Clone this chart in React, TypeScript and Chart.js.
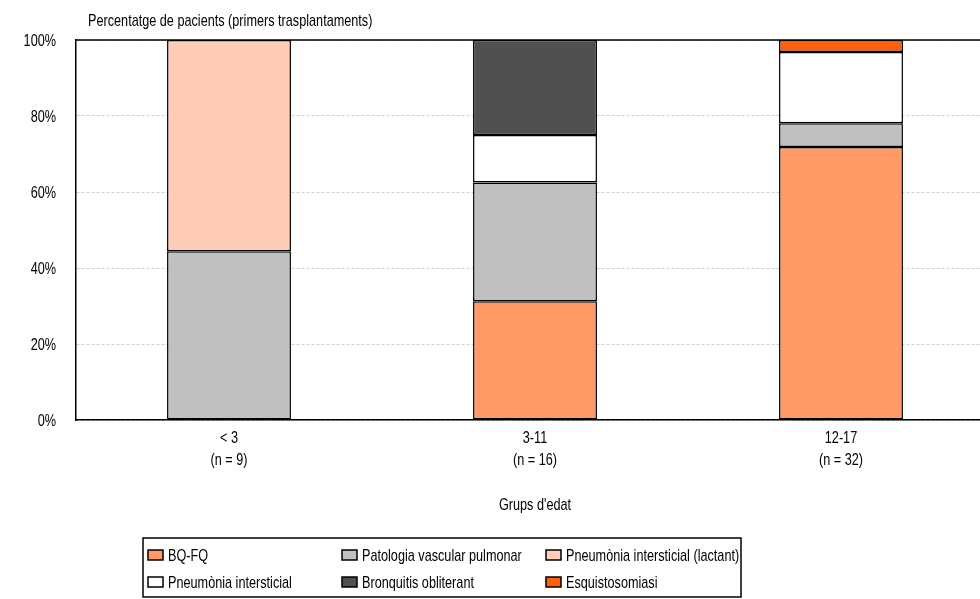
import React, { useEffect, useRef } from "react";
import { Chart, registerables } from "chart.js";

Chart.register(...registerables);

const categories: string[][] = [["< 3", "(n = 9)"], ["3-11", "(n = 16)"], ["12-17", "(n = 32)"]];
const seriesNames = [
  "BQ-FQ",
  "Patologia vascular pulmonar",
  "Pneumònia intersticial (lactant)",
  "Pneumònia intersticial",
  "Bronquitis obliterant",
  "Esquistosomiasi",
];
const bqfq = [0, 31.25, 71.875];
const patologiaVascular = [44.44, 31.25, 6.25];
const pneumoniaLactant = [55.56, 0, 0];
const pneumoniaIntersticial = [0, 12.5, 18.75];
const bronquitis = [0, 25, 0];
const esquistosomiasi = [0, 0, 3.125];
const seriesColors = ["#FF9966", "#C0C0C0", "#FFCCB8", "#FFFFFF", "#505050", "#FF5F0F"];
const yTicks = [0, 20, 40, 60, 80, 100];
const yTickLabels = ["0%", "20%", "40%", "60%", "80%", "100%"];
const yTitle = "Percentatge de pacients (primers trasplantaments)";
const xTitle = "Grups d'edat";

const FONT = "'Liberation Sans', Arial, sans-serif";
const FS = 17;
const SX = 0.745;

function condensedText(ctx: CanvasRenderingContext2D, text: string, x: number, y: number, align: "left" | "center" | "right") {
  ctx.save();
  ctx.translate(x, y);
  ctx.scale(SX, 1);
  ctx.textAlign = align;
  ctx.fillText(text, 0, 0);
  ctx.restore();
}

export default function App() {
  const ref = useRef<HTMLCanvasElement>(null);
  useEffect(() => {
    const values = [bqfq, patologiaVascular, pneumoniaLactant, pneumoniaIntersticial, bronquitis, esquistosomiasi];
    const overlay = {
      id: "overlay",
      afterDraw(chart: any) {
        const ctx: CanvasRenderingContext2D = chart.ctx;
        const ca = chart.chartArea;
        const xs = chart.scales.x;
        const ys = chart.scales.y;
        ctx.save();
        ctx.strokeStyle = "#000";
        ctx.lineWidth = 1.5;
        ctx.beginPath();
        ctx.moveTo(ca.left, ca.top);
        ctx.lineTo(ca.right, ca.top);
        ctx.stroke();
        ctx.fillStyle = "#000";
        ctx.font = `${FS}px ${FONT}`;
        ctx.textBaseline = "middle";
        condensedText(ctx, yTitle, ca.left + 12, 21, "left");
        yTicks.forEach((v, i) => {
          condensedText(ctx, yTickLabels[i], ca.left - 20, ys.getPixelForValue(v) + 1, "right");
        });
        categories.forEach((lines, i) => {
          const px = xs.getPixelForValue(i);
          lines.forEach((t, j) => condensedText(ctx, t, px, 438 + j * 22, "center"));
        });
        condensedText(ctx, xTitle, (ca.left + ca.right) / 2, 505, "center");
        const lx = 143, ly = 538, lw = 598, lh = 59;
        ctx.lineWidth = 1.5;
        ctx.strokeRect(lx, ly, lw, lh);
        const colX = [148, 342, 546];
        const rowY = [555, 582];
        chart.data.datasets.forEach((ds: any, i: number) => {
          const cx = colX[i % 3];
          const cy = rowY[Math.floor(i / 3)];
          ctx.fillStyle = ds.backgroundColor;
          ctx.fillRect(cx, cy - 5, 15, 10);
          ctx.lineWidth = 1.5;
          ctx.strokeStyle = "#000";
          ctx.strokeRect(cx, cy - 5, 15, 10);
          ctx.fillStyle = "#000";
          condensedText(ctx, ds.label, cx + 20, cy + 1, "left");
        });
        ctx.restore();
      },
    };
    const chart = new Chart(ref.current!, {
      type: "bar",
      data: {
        labels: categories,
        datasets: seriesNames.map((name, i) => ({
          label: name,
          data: values[i],
          backgroundColor: seriesColors[i],
          borderColor: "#000",
          borderWidth: 1.5,
          borderSkipped: false,
          barPercentage: 0.405,
          categoryPercentage: 1,
        })),
      },
      options: {
        animation: false,
        responsive: false,
        maintainAspectRatio: false,
        layout: { padding: { top: 40, left: 0, right: 6, bottom: 84 } },
        plugins: { legend: { display: false }, tooltip: { enabled: false } },
        scales: {
          x: {
            stacked: true,
            grid: { display: false, drawTicks: false },
            border: { display: true, color: "#000", width: 1.5 },
            ticks: { display: false },
            afterFit: (s: any) => { s.height = 95; },
          },
          y: {
            stacked: true,
            min: 0,
            max: 100,
            afterBuildTicks: (s: any) => { s.ticks = yTicks.map((v) => ({ value: v })); },
            grid: { color: "#CFCFCF", drawTicks: false },
            border: { display: true, color: "#000", width: 1.5, dash: [3, 2] },
            ticks: { display: false },
            afterFit: (s: any) => { s.width = 76; },
          },
        },
      },
      plugins: [overlay],
    });
    return () => chart.destroy();
  }, []);
  return (
    <div style={{ position: "fixed", left: 0, top: 0, width: 980, height: 599, overflow: "hidden", background: "#fff" }}>
      <canvas ref={ref} width={1000} height={599} style={{ display: "block", width: 1000, height: 599 }} />
    </div>
  );
}
